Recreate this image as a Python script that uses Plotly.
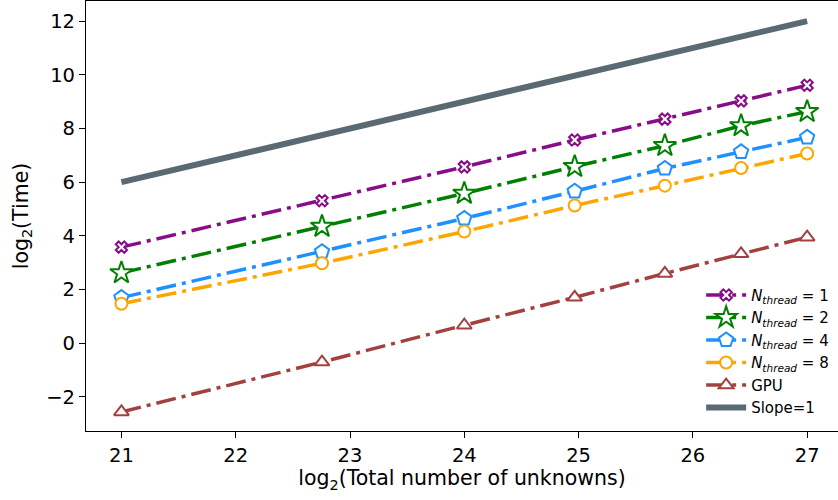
import plotly.graph_objects as go

x_vals = [21, 22.755, 24, 24.966, 25.755, 26.422, 27]
y_n1 = [3.58, 5.31, 6.57, 7.57, 8.35, 9.03, 9.61]
y_n2 = [2.62, 4.35, 5.58, 6.58, 7.36, 8.10, 8.63]
y_n4 = [1.70, 3.41, 4.65, 5.66, 6.51, 7.13, 7.67]
y_n8 = [1.47, 2.98, 4.16, 5.13, 5.87, 6.53, 7.07]
y_gpu = [-2.56, -0.70, 0.67, 1.71, 2.60, 3.33, 3.95]
slope_x = [21, 27]
slope_y = [6, 12]

series = [
    ("<i>N</i><sub><i>thread</i></sub> = 1", y_n1, "#880e88", "x", 10),
    ("<i>N</i><sub><i>thread</i></sub> = 2", y_n2, "#008000", "star", 17),
    ("<i>N</i><sub><i>thread</i></sub> = 4", y_n4, "#1e90ff", "pentagon", 15),
    ("<i>N</i><sub><i>thread</i></sub> = 8", y_n8, "#ffa500", "circle", 12),
    ("GPU", y_gpu, "#a2413f", "triangle-up", 13),
]

fig = go.Figure()
for name, ys, col, sym, sz in series:
    fig.add_trace(go.Scatter(
        x=x_vals, y=ys, name=name, mode="lines+markers",
        line=dict(color=col, width=3.5, dash="20px,6px,4px,6px"),
        marker=dict(symbol=sym, size=sz, color="white",
                    line=dict(color=col, width=2)),
    ))
fig.add_trace(go.Scatter(
    x=slope_x, y=slope_y, name="Slope=1", mode="lines",
    line=dict(color="#596a73", width=6),
))

axis_common = dict(
    showgrid=False, zeroline=False, showline=True, linecolor="black",
    linewidth=1.2, ticks="outside", ticklen=6, tickwidth=1.2,
    tickcolor="black", automargin=False,
    tickfont=dict(family="DejaVu Sans", size=19.5, color="black"),
)
fig.update_layout(
    width=838, height=500,
    margin=dict(l=86, r=0, t=1, b=69),
    paper_bgcolor="white", plot_bgcolor="white",
    font=dict(family="DejaVu Sans", color="black"),
    xaxis=dict(range=[20.69, 27.27], dtick=1, mirror=True,
               title=dict(text="log<sub>2</sub>(Total number of unknowns)",
                          font=dict(size=20.5), standoff=0), **axis_common),
    yaxis=dict(range=[-3.27, 12.75], dtick=2, mirror=False,
               title=dict(text="log<sub>2</sub>(Time)", font=dict(size=20.5),
                          standoff=12), **axis_common),
    legend=dict(x=0.818, y=0.354, xanchor="left", yanchor="top",
                bgcolor="rgba(255,255,255,0.8)", borderwidth=0,
                font=dict(size=15, family="DejaVu Sans"), itemwidth=40),
)
fig.write_html(
    "out.html",
    config={"displayModeBar": False},
    post_script="document.body.style.margin='0';document.body.style.overflow='hidden';",
)
